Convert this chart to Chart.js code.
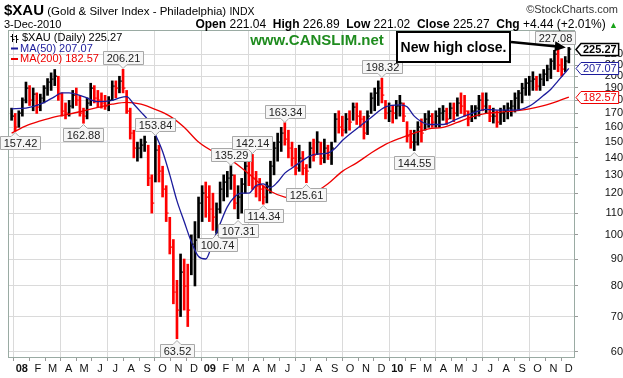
<!DOCTYPE html>
<html><head><meta charset="utf-8">
<script src="https://cdn.jsdelivr.net/npm/chart.js@4.4.1/dist/chart.umd.min.js"></script>
<style>
html,body{margin:0;padding:0;background:#fff;}
#wrap{position:relative;width:623px;height:378px;overflow:hidden;font-family:"Liberation Sans",Arial,sans-serif;}
canvas{position:absolute;left:0;top:0;}
.h{position:absolute;white-space:nowrap;color:#000;line-height:1;}
</style></head><body>
<div id="wrap">
<canvas id="c" width="623" height="378"></canvas>
<div class="h" style="left:4px;top:2px;font-size:11.5px;"><b style="font-size:15px">$XAU</b> (Gold &amp; Silver Index - Philadelphia) <span style="font-size:10.5px">INDX</span></div>
<div class="h" style="right:5px;top:4px;font-size:11px;color:#333">©StockCharts.com</div>
<div class="h" style="left:4px;top:19px;font-size:11px">3-Dec-2010</div>
<div class="h" style="right:5px;top:18px;font-size:12px"><b>Open</b> 221.04 &nbsp;<b>High</b> 226.89 &nbsp;<b>Low</b> 221.02 &nbsp;<b>Close</b> 225.27 &nbsp;<b>Chg</b> +4.44 (+2.01%) <span style="color:#19a319;font-size:9px">▲</span></div>
</div>
<script>
// ---------- DATA ----------
const firstWeekMid = '2007-12-12';   // weekly bars, one per week (mid-week date)
const weekHigh = [174,170,172,182,195,192,190,186,185,192,
 198,203,206,200,186,178,180,188,190,184,
 174,182,194,192,188,186,184,183,196,196,
 200,206.21,188,174,158,150,152,154,148,130,
 153.84,148,135,124,108,98,82,92,90,88,
 100,106,118,124,126,124,120,115,126,130,
 132,135.29,130,124,128,138,140,142.14,132,128,
 124,126,138,150,156,160,163.34,158,150,146,
 148,144,136,150,152,157,150,152,148,150,
 170,172,168,170,172,178,178,172,168,172,
 186,190,196,198.32,180,178,176,180,184,178,
 164,158,158,164,166,170,172,170,172,174,
 176,174,178,178,182,186,184,172,176,176,
 184,186,186,176,174,172,174,176,178,180,
 186,188,194,198,200,204,200,202,206,210,
 216,224,227.08,216,218,226.89];
const weekLow = [165,157.42,160,168,178,176,172,170,172,178,
 184,188,192,180,168,166,168,174,176,168,
 162.88,166,176,178,175,174,173,172,180,182,
 186,186,170,152,140,138,140,144,124,110,
 126,126,118,106,92,74,63.52,70,72,67,
 84,80,96,106,108,106,102,100.74,110,116,
 118,122,112,107.31,110,120,124,122,118,116,
 114.34,115,120,130,138,144,148,140,135,130,
 132,130,125.61,134,138,142,136,137,139,136,
 150,156,154,156,158,165,162,160,152,155,
 170,172,176,178,166,164,163,166,168,164,
 150,146,144.55,148,150,158,160,160,160,160,
 165,162,166,164,168,170,168,161,164,166,
 168,172,170,164,163,160,162,164,166,168,
 171,173,178,184,184,188,188,188,192,196,
 198,206,204,200,204,212];
const weekClose = [168,160,170,180,190,180,185,175,182,190,
 195,198,200,185,172,170,176,184,180,170,
 168,178,190,182,180,178,176,180,192,190,
 196,190,172,156,146,146,148,150,128,115,
 145,132,122,110,95,78,72,85,80,72,
 96,98,115,120,118,112,108,112,122,126,
 128,130,115,118,125,135,130,128,124,122,
 118,124,135,146,150,156,152,146,140,134,
 140,134,132,146,142,150,140,146,142,146,
 166,160,158,166,164,175,168,166,156,168,
 182,186,190,184,170,172,170,176,178,168,
 154,150,150,160,156,166,168,164,168,170,
 172,166,174,170,178,176,172,166,172,174,
 180,176,180,168,168,164,170,172,174,176,
 182,186,190,194,196,198,192,198,202,206,
 214,220,210,206,214,225.27];
const ma50Week = [0,4,8,12,14,16,20,24,28,30,32,34,36,38,40,42,44,46,48,50,52,54,56,58,60,62,64,66,68,70,72,74,76,78,80,84,88,90,92,96,100,104,108,110,112,114,116,120,124,128,132,136,140,144,148,150,152,155];
const ma50 = [173.5,174,177,183,186,186,183,179,180,182,183,177,171,165,155,144,130,116,106,97,91,90,97,105,113,118,120,120,124,125,123,126,131,134,137,142,143,146,151,159,167,175,176.5,175,168,164,162,162,166,170,173,172.5,172.5,175.5,184,189,196,207.07];
const ma200Week = [0,4,8,12,16,20,24,28,32,36,40,44,48,52,56,60,64,68,72,76,80,84,88,92,96,100,104,108,112,116,120,124,128,132,136,140,144,148,152,155];
const ma200 = [156,161,164.5,167.5,169.5,172,174.5,177,178.5,177,173,168,160,150,144,140,134,127,121,118,117.5,120,125,132,137,143,148.5,152.5,156,159,160,163.5,167.5,170,171,172,173.5,176,179.5,182.57];
const yTicks = [60,70,80,90,100,110,120,130,140,150,160,170,180,190,200,210,220];
const xTickLabels = ['08','F','M','A','M','J','J','A','S','O','N','D',
 '09','F','M','A','M','J','J','A','S','O','N','D',
 '10','F','M','A','M','J','J','A','S','O','N','D'];
const callouts = [
 {week:1, value:157.42, kind:'low'}, {week:20, value:162.88, kind:'low'},
 {week:31, value:206.21, kind:'high'}, {week:40, value:153.84, kind:'high'},
 {week:46, value:63.52, kind:'low'}, {week:57, value:100.74, kind:'low'},
 {week:61, value:135.29, kind:'high'}, {week:63, value:107.31, kind:'low'},
 {week:67, value:142.14, kind:'high'}, {week:70, value:114.34, kind:'low'},
 {week:76, value:163.34, kind:'high'}, {week:82, value:125.61, kind:'low'},
 {week:103, value:198.32, kind:'high'}, {week:112, value:144.55, kind:'low'},
 {week:152, value:227.08, kind:'high'}];
const lastClose = 225.27, lastMA50 = 207.07, lastMA200 = 182.57;

// ---------- helpers ----------
const DAY = 864e5;
const origin = Date.UTC(2008,0,1);
const p = firstWeekMid.split('-').map(Number);
const firstDay = (Date.UTC(p[0],p[1]-1,p[2]) - origin)/DAY;
const weekDay = i => firstDay + 7*i;
const monthDays = [];
for (let yr=2008; yr<=2010; yr++) for (let m=0;m<12;m++) monthDays.push((Date.UTC(yr,m,1)-origin)/DAY);
const FONT = '"Liberation Sans", Arial, sans-serif';

const barData = weekHigh.map((h,i)=>({x:weekDay(i), y:[weekLow[i], h]}));
const barColors = weekClose.map((c,i)=> (i===0 || c >= weekClose[i-1]) ? '#000000' : '#ff0000');

const closeTicks = {
  id:'closeTicks',
  afterDatasetsDraw(chart){
    const {ctx, scales:{x,y}} = chart;
    ctx.save();
    weekClose.forEach((c,i)=>{
      const px = x.getPixelForValue(weekDay(i));
      const py = Math.round(y.getPixelForValue(c));
      ctx.fillStyle = barColors[i];
      ctx.fillRect(px+0.9, py-0.5, 1.5, 1.2);
    });
    ctx.restore();
  }
};

const overlay = {
  id:'overlay',
  afterDraw(chart){
    const {ctx, chartArea:a, scales:{x,y}} = chart;
    ctx.save();
    ctx.strokeStyle = '#9aaba3'; ctx.lineWidth = 1;
    ctx.strokeRect(a.left+0.5, a.top+0.5, a.right-a.left-1, a.bottom-a.top-1);

    // callouts
    ctx.font = '11px '+FONT;
    ctx.textBaseline = 'middle'; ctx.textAlign = 'center';
    callouts.forEach(c=>{
      const px = x.getPixelForValue(weekDay(c.week));
      const py = y.getPixelForValue(c.value);
      const t = c.value.toFixed(2);
      const w = Math.round(ctx.measureText(t).width)+6, h = 13, n = 4;
      let bx = Math.round(px - w/2);
      bx = Math.max(0, Math.min(bx, a.right - w));
      let by = c.kind==='low' ? Math.round(py + 1 + n) : Math.round(py - 1 - n - h);
      if (by < a.top + 1) by = a.top + 1;
      const X = bx+0.5, Y = by+0.5;
      ctx.beginPath();
      if (c.kind==='low'){
        ctx.moveTo(X,Y); ctx.lineTo(px-n,Y); ctx.lineTo(px,Y-n); ctx.lineTo(px+n,Y);
        ctx.lineTo(X+w,Y); ctx.lineTo(X+w,Y+h); ctx.lineTo(X,Y+h); ctx.closePath();
      } else {
        ctx.moveTo(X,Y); ctx.lineTo(X+w,Y); ctx.lineTo(X+w,Y+h); ctx.lineTo(px+n,Y+h);
        ctx.lineTo(px,Y+h+n); ctx.lineTo(px-n,Y+h); ctx.lineTo(X,Y+h); ctx.closePath();
      }
      ctx.fillStyle = '#f6f6f6'; ctx.fill();
      ctx.strokeStyle = '#a8a8a8'; ctx.lineWidth = 1; ctx.stroke();
      ctx.fillStyle = '#222';
      ctx.fillText(t, X + w/2, Y + h/2 + 0.5);
    });

    // legend
    ctx.textAlign = 'left';
    const lx = a.left + 3;
    ctx.strokeStyle = '#000'; ctx.lineWidth = 1;
    const iy = a.top + 8;
    [[lx+1, -4, 4],[lx+5, -3, 5]].forEach(([bx,t0,t1])=>{
      ctx.beginPath(); ctx.moveTo(bx+0.5, iy+t0); ctx.lineTo(bx+0.5, iy+t1);
      ctx.moveTo(bx-1.5, iy-1.5); ctx.lineTo(bx+0.5, iy-1.5);
      ctx.moveTo(bx+0.5, iy+1.5); ctx.lineTo(bx+2.5, iy+1.5); ctx.stroke();
    });
    ctx.font = '11px '+FONT;
    ctx.fillStyle = '#000';
    ctx.fillText('$XAU (Daily) ' + lastClose.toFixed(2), lx + 11, iy);
    const rows = [['MA(50) '+lastMA50.toFixed(2), '#1c1c9c'], ['MA(200) '+lastMA200.toFixed(2), '#ee0000']];
    rows.forEach((r,i)=>{
      const ry = iy + 10.5*(i+1);
      ctx.fillStyle = r[1];
      ctx.fillRect(lx, ry-1, 7, 2);
      ctx.fillText(r[0], lx + 9, ry);
    });

    // CANSLIM
    ctx.font = 'bold 15px '+FONT;
    ctx.fillStyle = '#1f8c1f';
    ctx.textAlign = 'center';
    ctx.fillText('www.CANSLIM.net', 317, a.top + 11);

    // note box
    const nb = {l:397, t:a.top+2, r:510, b:a.top+32};
    ctx.fillStyle = '#fff'; ctx.fillRect(nb.l, nb.t, nb.r-nb.l, nb.b-nb.t);
    ctx.strokeStyle = '#000'; ctx.lineWidth = 2;
    ctx.strokeRect(nb.l, nb.t, nb.r-nb.l, nb.b-nb.t);
    ctx.fillStyle = '#000'; ctx.font = 'bold 14px '+FONT;
    ctx.fillText('New high close.', (nb.l+nb.r)/2, (nb.t+nb.b)/2+1);
    const ax = x.getPixelForValue(weekDay(weekHigh.length-1)) - 3;
    const ay = y.getPixelForValue(weekHigh[weekHigh.length-1]);
    const sx = nb.r + 1, sy = nb.t + 10;
    const ang = Math.atan2(ay-sy, ax-sx);
    ctx.lineWidth = 2.5;
    ctx.beginPath(); ctx.moveTo(sx,sy); ctx.lineTo(ax-9*Math.cos(ang), ay-9*Math.sin(ang)); ctx.stroke();
    ctx.beginPath();
    ctx.moveTo(ax,ay);
    ctx.lineTo(ax-11*Math.cos(ang)+5*Math.sin(ang), ay-11*Math.sin(ang)-5*Math.cos(ang));
    ctx.lineTo(ax-11*Math.cos(ang)-5*Math.sin(ang), ay-11*Math.sin(ang)+5*Math.cos(ang));
    ctx.closePath(); ctx.fill();

    // value tags on right axis
    const tag = (v, color, bold) => {
      const ty = Math.round(y.getPixelForValue(v)) + 0.5;
      ctx.font = (bold?'bold ':'') + '11px ' + FONT;
      const t = v.toFixed(2);
      const w = ctx.measureText(t).width + 4, h = 12;
      const x0 = a.right + 1, x1 = x0 + 5;
      ctx.beginPath();
      ctx.moveTo(x0, ty); ctx.lineTo(x1, ty-h/2); ctx.lineTo(x1+w, ty-h/2);
      ctx.lineTo(x1+w, ty+h/2); ctx.lineTo(x1, ty+h/2); ctx.closePath();
      ctx.fillStyle = '#fff'; ctx.fill();
      ctx.strokeStyle = color; ctx.lineWidth = bold ? 1.5 : 1; ctx.stroke();
      ctx.fillStyle = color; ctx.textAlign = 'left';
      ctx.fillText(t, x1 + 2, ty + 0.5);
    };
    tag(lastMA200, '#ee0000', false);
    tag(lastMA50, '#1c1c9c', false);
    tag(lastClose, '#000', true);
    ctx.restore();
  }
};

new Chart(document.getElementById('c'), {
  type:'bar',
  data:{
    datasets:[
      {type:'line', data: ma50Week.map((w,i)=>({x:weekDay(w), y:ma50[i]})), borderColor:'#1c1c9c', borderWidth:1.3, pointRadius:0, cubicInterpolationMode:'monotone', order:1},
      {type:'line', data: ma200Week.map((w,i)=>({x:weekDay(w), y:ma200[i]})), borderColor:'#ee0000', borderWidth:1.3, pointRadius:0, cubicInterpolationMode:'monotone', order:2},
      {type:'bar', data: barData, backgroundColor: barColors, barThickness:2, grouped:false, borderWidth:0, order:3}
    ]
  },
  options:{
    responsive:false, animation:false, events:[],
    layout:{padding:{left:8, top:30, right:0, bottom:0}},
    plugins:{legend:{display:false}, tooltip:{enabled:false}},
    scales:{
      x:{type:'linear', min:-27, max:1077, offset:false,
         afterBuildTicks: s => { s.ticks = monthDays.map(v=>({value:v})); },
         afterFit: s => { s.height = 20; },
         grid:{color: c => (c.index % 3 === 0) ? '#dadada' : 'rgba(0,0,0,0)', tickColor:'#999', tickLength:3, drawTicks:true},
         border:{display:false},
         ticks:{autoSkip:false, maxRotation:0, padding:1, color:'#111',
           font: c => ({family:FONT, size:11, weight: (c.index % 12 === 0) ? 'bold' : 'normal'}),
           callback:(v,i)=> xTickLabels[i]}
      },
      y:{type:'logarithmic', position:'right', min:58.4, max:244.8,
         afterBuildTicks: s => { s.ticks = yTicks.map(v=>({value:v})); },
         afterFit: s => { s.width = 48; },
         grid:{color:'#dadada', tickColor:'#999', tickLength:3},
         border:{display:false},
         ticks:{padding:2, crossAlign:'far', color:'#111', font:{family:FONT, size:11},
           callback: v => String(v)}
      }
    }
  },
  plugins:[closeTicks, overlay]
});
</script>
</body></html>
